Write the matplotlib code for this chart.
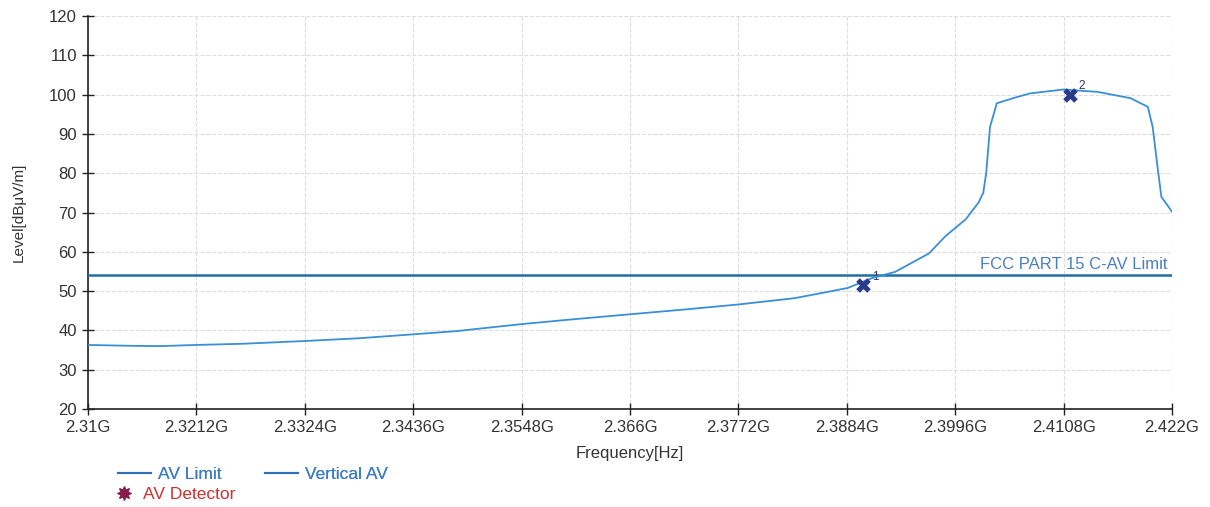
import numpy as np
import matplotlib
matplotlib.use("Agg")
import matplotlib.pyplot as plt
from matplotlib.lines import Line2D

plt.rcParams['font.family'] = ['Liberation Sans', 'DejaVu Sans']

# trace (GHz, dBuV/m)
freq = [2.3100, 2.3140, 2.3174, 2.3212, 2.3260, 2.3324, 2.3380, 2.3436, 2.3480,
        2.3548, 2.3600, 2.3660, 2.3720, 2.3772, 2.3830, 2.3860, 2.3885, 2.3910,
        2.3934, 2.3969, 2.3986, 2.4007, 2.4020, 2.4025, 2.4028, 2.4032, 2.4039,
        2.4056, 2.4073, 2.4108, 2.4143, 2.4177, 2.4195, 2.4200, 2.4205, 2.4209,
        2.4220]
level = [36.3, 36.1, 36.0, 36.3, 36.6, 37.3, 38.0, 39.0, 39.8,
         41.6, 42.8, 44.1, 45.4, 46.6, 48.2, 49.6, 50.8, 53.3,
         54.9, 59.6, 64.0, 68.3, 72.5, 75.0, 80.0, 91.8, 97.8,
         99.1, 100.3, 101.3, 100.7, 99.1, 96.9, 91.8, 81.7, 74.0,
         70.2]

limit_level = 54
limit_span = [2.31, 2.422]

marker_freq = [2.3901, 2.4115]
marker_level = [51.5, 99.9]
marker_names = ['1', '2']

xticks = [2.31, 2.3212, 2.3324, 2.3436, 2.3548, 2.366, 2.3772, 2.3884, 2.3996, 2.4108, 2.422]
xtick_labels = ['2.31G', '2.3212G', '2.3324G', '2.3436G', '2.3548G', '2.366G',
                '2.3772G', '2.3884G', '2.3996G', '2.4108G', '2.422G']
yticks = [20, 30, 40, 50, 60, 70, 80, 90, 100, 110, 120]

trace_col = '#3a8fd6'
limit_col = '#1f6fa6'
mark_col = '#2b3a8c'

fig = plt.figure(figsize=(12.1, 5.07), dpi=100)
ax = fig.add_axes([0.0727, 0.1933, 0.8959, 0.7751])

ax.plot(limit_span, [limit_level, limit_level], color=limit_col, lw=1.8, zorder=3)
ax.plot(freq, level, color=trace_col, lw=1.3, zorder=4)
ax.scatter(marker_freq, marker_level, marker='X', s=110, color=mark_col, zorder=5, linewidths=0)
for f, l, n in zip(marker_freq, marker_level, marker_names):
    ax.annotate(n, (f, l), xytext=(6, 4), textcoords='offset points',
                fontsize=8.5, color='#333366')

ax.text(2.4215, limit_level + 0.8, 'FCC PART 15 C-AV Limit', ha='right', va='bottom',
        fontsize=12, color='#4a7fbf')

ax.set_xlim(2.31, 2.422)
ax.set_ylim(20, 120)
ax.set_xticks(xticks)
ax.set_xticklabels(xtick_labels)
ax.set_yticks(yticks)
ax.tick_params(axis='both', direction='inout', length=9, width=1, colors='#222222',
               labelsize=12, labelcolor='#333333')
ax.grid(True, linestyle='--', color='#dddddd', lw=0.8)
for s in ['top', 'right']:
    ax.spines[s].set_visible(False)
for s in ['left', 'bottom']:
    ax.spines[s].set_color('#222222')
    ax.spines[s].set_linewidth(1.2)

ax.set_xlabel('Frequency[Hz]', fontsize=12, color='#333333', labelpad=8)
ax.set_ylabel('Level[dBμV/m]', fontsize=11, color='#333333', labelpad=17)

# legend: first row two lines, second row the detector marker
row1 = [Line2D([], [], color='#2f6fb8', lw=1.5), Line2D([], [], color='#2f6fb8', lw=1.5)]
leg1 = fig.legend(row1, ['AV Limit', 'Vertical AV'], ncol=2, loc='upper left',
                  bbox_to_anchor=(0.0975, 0.0789), frameon=False, fontsize=12.5,
                  handlelength=1.9, handletextpad=0.4, columnspacing=2.5,
                  borderpad=0, borderaxespad=0)
for t in leg1.get_texts():
    t.set_color('#3b7dc4')

row2 = [Line2D([], [], ls='none', marker=(8, 1, 0), color='#8a1a4a', markersize=10)]
leg2 = fig.legend(row2, ['AV Detector'], loc='upper left', bbox_to_anchor=(0.095, 0.0395),
                  frameon=False, fontsize=12.5, handlelength=1.0, handletextpad=0.6,
                  borderpad=0, borderaxespad=0)
leg2.get_texts()[0].set_color('#d03030')
fig.add_artist(leg1)

fig.savefig('out.png', dpi=100)
